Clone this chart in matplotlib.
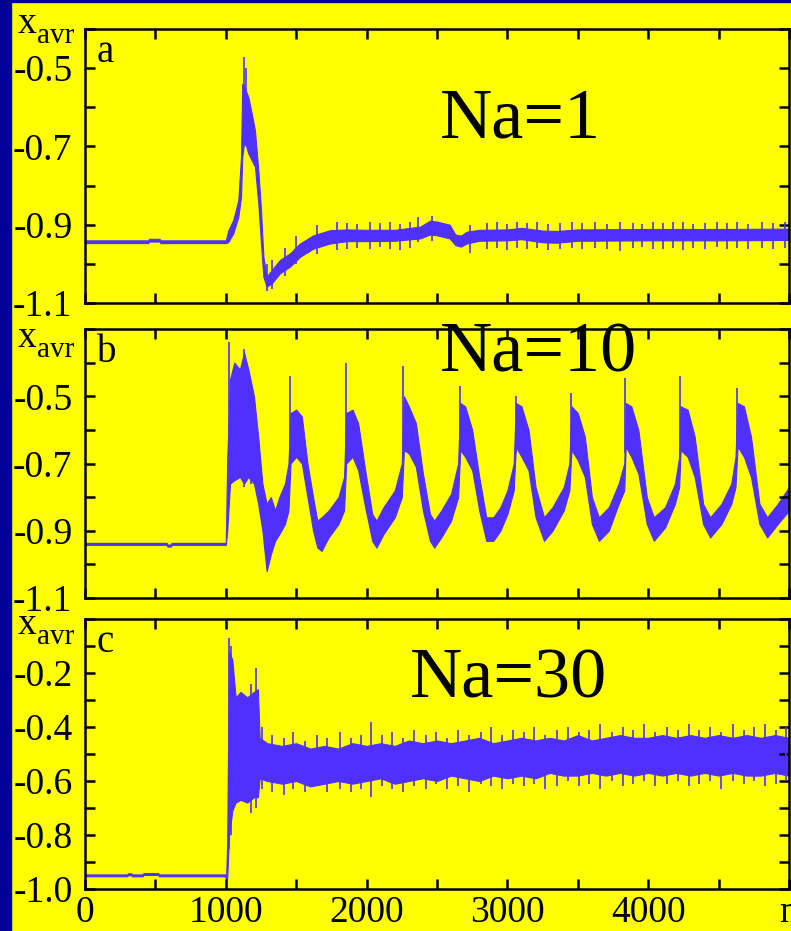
import numpy as np
import matplotlib.pyplot as plt
from matplotlib.ticker import MultipleLocator, FuncFormatter
from matplotlib.patches import Rectangle

plt.rcParams['font.family'] = ['Liberation Serif', 'DejaVu Serif']
plt.rcParams['axes.unicode_minus'] = False

# ---- panel a (Na=1): band envelope
a_n = [0, 450, 455, 530, 535, 1000, 1018, 1053, 1089, 1108, 1117, 1132, 1160, 1184, 1207,
       1231, 1250, 1267, 1290, 1326, 1385, 1456, 1527, 1622, 1740, 1860, 2000, 2200, 2380,
       2450, 2500, 2590, 2630, 2670, 2710, 2800, 3000, 3100, 3250, 3350, 3500, 4000, 4500, 5000]
a_up = [-0.940, -0.940, -0.936, -0.936, -0.940, -0.940, -0.914, -0.888, -0.837, -0.727, -0.540,
        -0.548, -0.574, -0.616, -0.659, -0.761, -0.863, -0.982, -1.033, -1.016, -0.990, -0.973,
        -0.948, -0.927, -0.914, -0.912, -0.913, -0.913, -0.905, -0.890, -0.892, -0.900, -0.925,
        -0.928, -0.918, -0.913, -0.912, -0.908, -0.915, -0.916, -0.912, -0.911, -0.911, -0.910]
a_lo = [-0.947, -0.947, -0.943, -0.943, -0.947, -0.947, -0.944, -0.922, -0.880, -0.829, -0.727,
        -0.684, -0.718, -0.735, -0.752, -0.846, -0.948, -1.033, -1.058, -1.050, -1.024, -1.007,
        -0.982, -0.961, -0.948, -0.942, -0.942, -0.941, -0.935, -0.925, -0.927, -0.935, -0.952,
        -0.956, -0.948, -0.941, -0.940, -0.937, -0.945, -0.946, -0.941, -0.940, -0.940, -0.939]
# spikes sticking out of the band
a_spike_n = [1132, 1145, 1290, 1330, 1420, 1500, 1645, 1787, 1858, 1930, 2024, 2095, 2166, 2237,
             2308, 2367, 2462, 2734, 2853, 2924, 2995, 3066, 3137, 3208, 3291, 3374, 3457, 3528,
             3622, 3705, 3800, 3894, 3954, 4036, 4107, 4178, 4249, 4320, 4403, 4486, 4557, 4628,
             4711, 4806, 4888, 4972]
a_spike_hi = [-0.472, -0.50, -1.00, -0.99, -0.96, -0.93, -0.90, -0.893, -0.895, -0.897, -0.892,
              -0.896, -0.894, -0.897, -0.893, -0.880, -0.878, -0.900, -0.895, -0.893, -0.897,
              -0.894, -0.896, -0.892, -0.897, -0.895, -0.893, -0.896, -0.894, -0.897, -0.893,
              -0.895, -0.897, -0.893, -0.896, -0.894, -0.892, -0.897, -0.895, -0.893, -0.896,
              -0.894, -0.897, -0.893, -0.895, -0.894]
a_spike_lo = [-0.70, -0.70, -1.070, -1.065, -1.03, -1.00, -0.975, -0.965, -0.962, -0.960, -0.963,
              -0.958, -0.961, -0.964, -0.960, -0.945, -0.942, -0.972, -0.962, -0.960, -0.964,
              -0.959, -0.962, -0.960, -0.965, -0.961, -0.959, -0.963, -0.960, -0.962, -0.966,
              -0.960, -0.958, -0.963, -0.961, -0.959, -0.964, -0.960, -0.962, -0.958, -0.963,
              -0.960, -0.962, -0.959, -0.961, -0.960]

# ---- panel b (Na=10)
b_n = [0, 580, 585, 610, 615, 1000, 1010, 1030, 1060, 1100, 1130, 1160, 1200, 1230, 1260,
       1290, 1320, 1350, 1380, 1420, 1445, 1460, 1500, 1540, 1580, 1620, 1650, 1680, 1730,
       1800, 1840, 1855, 1900, 1940, 1990, 2040, 2070, 2120, 2200, 2250, 2265, 2300, 2350,
       2400, 2450, 2480, 2530, 2600, 2650, 2665, 2700, 2750, 2800, 2850, 2900, 2950, 3000,
       3045, 3060, 3100, 3150, 3200, 3260, 3320, 3400, 3440, 3455, 3500, 3550, 3600, 3650,
       3720, 3790, 3830, 3840, 3880, 3930, 3990, 4040, 4120, 4190, 4220, 4230, 4280, 4330,
       4390, 4440, 4520, 4590, 4620, 4635, 4680, 4730, 4790, 4845, 4920, 5000]
b_up = [-0.936, -0.936, -0.941, -0.941, -0.936, -0.936, -0.69, -0.45, -0.40, -0.42, -0.37,
        -0.42, -0.50, -0.62, -0.76, -0.82, -0.80, -0.84, -0.80, -0.76, -0.70, -0.55, -0.54,
        -0.56, -0.70, -0.80, -0.87, -0.86, -0.84, -0.80, -0.74, -0.55, -0.54, -0.58, -0.72,
        -0.85, -0.87, -0.83, -0.78, -0.70, -0.50, -0.53, -0.58, -0.73, -0.85, -0.87, -0.84,
        -0.79, -0.70, -0.52, -0.53, -0.60, -0.74, -0.86, -0.86, -0.83, -0.78, -0.70, -0.52,
        -0.53, -0.60, -0.77, -0.86, -0.83, -0.77, -0.70, -0.53, -0.55, -0.62, -0.80, -0.86,
        -0.83, -0.76, -0.70, -0.52, -0.53, -0.60, -0.80, -0.86, -0.83, -0.76, -0.68, -0.53,
        -0.54, -0.62, -0.82, -0.86, -0.82, -0.76, -0.68, -0.52, -0.53, -0.62, -0.82, -0.86,
        -0.82, -0.77]
b_lo = [-0.942, -0.942, -0.947, -0.947, -0.942, -0.942, -0.90, -0.76, -0.75, -0.74, -0.76,
        -0.74, -0.76, -0.82, -0.90, -1.02, -0.97, -0.93, -0.91, -0.88, -0.84, -0.70, -0.68,
        -0.70, -0.80, -0.90, -0.95, -0.96, -0.92, -0.88, -0.84, -0.70, -0.68, -0.72, -0.83,
        -0.93, -0.95, -0.91, -0.86, -0.80, -0.66, -0.67, -0.71, -0.84, -0.93, -0.95, -0.92,
        -0.87, -0.80, -0.66, -0.68, -0.72, -0.84, -0.93, -0.93, -0.90, -0.85, -0.78, -0.65,
        -0.68, -0.72, -0.86, -0.93, -0.90, -0.84, -0.78, -0.66, -0.69, -0.74, -0.88, -0.93,
        -0.90, -0.82, -0.78, -0.65, -0.68, -0.73, -0.88, -0.93, -0.89, -0.82, -0.77, -0.66,
        -0.68, -0.74, -0.88, -0.92, -0.88, -0.82, -0.77, -0.65, -0.68, -0.74, -0.88, -0.92,
        -0.88, -0.84]
b_spike_n = [1020, 1130, 1180, 1455, 1855, 2262, 2663, 3058, 3450, 3835, 4226, 4630]
b_spike_hi = [-0.34, -0.36, -0.47, -0.44, -0.40, -0.41, -0.47, -0.50, -0.49, -0.445, -0.44, -0.475]
b_spike_lo = [-0.78, -0.77, -0.76, -0.70, -0.70, -0.68, -0.68, -0.67, -0.68, -0.67, -0.68, -0.67]

# ---- panel c (Na=30)
c_n = [0, 300, 305, 330, 335, 410, 415, 520, 525, 995, 1003, 1010, 1022, 1046, 1070, 1105,
       1152, 1200, 1228, 1240, 1294, 1400, 1500, 1600, 1700, 1800, 1900, 2000, 2100, 2200,
       2300, 2400, 2500, 2600, 2700, 2800, 2900, 3000, 3100, 3200, 3300, 3400, 3500, 3600,
       3700, 3800, 3900, 4000, 4100, 4200, 4300, 4400, 4500, 4600, 4700, 4800, 4900, 5000]
c_up = [-0.946, -0.946, -0.942, -0.942, -0.946, -0.946, -0.941, -0.941, -0.946, -0.946, -0.946,
        -0.83, -0.12, -0.15, -0.29, -0.27, -0.29, -0.27, -0.26, -0.44, -0.46, -0.47, -0.46,
        -0.48, -0.47, -0.48, -0.46, -0.47, -0.46, -0.47, -0.45, -0.46, -0.45, -0.46, -0.45,
        -0.44, -0.46, -0.45, -0.44, -0.45, -0.44, -0.45, -0.43, -0.45, -0.44, -0.43, -0.44,
        -0.44, -0.43, -0.44, -0.43, -0.44, -0.43, -0.44, -0.43, -0.44, -0.43, -0.44]
c_lo = [-0.953, -0.953, -0.949, -0.949, -0.953, -0.953, -0.948, -0.948, -0.953, -0.953, -0.965,
        -0.96, -0.81, -0.71, -0.68, -0.67, -0.68, -0.66, -0.66, -0.59, -0.60, -0.61, -0.60,
        -0.62, -0.61, -0.60, -0.61, -0.60, -0.59, -0.61, -0.60, -0.59, -0.60, -0.58, -0.59,
        -0.60, -0.58, -0.59, -0.58, -0.59, -0.57, -0.58, -0.58, -0.57, -0.58, -0.57, -0.58,
        -0.57, -0.58, -0.57, -0.58, -0.57, -0.58, -0.57, -0.58, -0.58, -0.57, -0.58]
c_spike_n = [1022, 1040, 1180, 1215, 1260, 1330, 1410, 1480, 1560, 1650, 1720, 1810, 1890, 1960,
             2029, 2110, 2180, 2260, 2340, 2420, 2490, 2570, 2650, 2730, 2810, 2880, 2960, 3040,
             3120, 3190, 3270, 3350, 3430, 3510, 3580, 3660, 3740, 3820, 3890, 3970, 4050, 4130,
             4210, 4290, 4360, 4440, 4520, 4600, 4680, 4750, 4830, 4910, 4980]
c_spike_hi = [-0.07, -0.10, -0.24, -0.18, -0.40, -0.43, -0.44, -0.42, -0.45, -0.43, -0.44, -0.42,
              -0.44, -0.43, -0.38, -0.43, -0.42, -0.44, -0.41, -0.43, -0.42, -0.44, -0.41, -0.43,
              -0.42, -0.40, -0.43, -0.41, -0.42, -0.40, -0.43, -0.41, -0.40, -0.42, -0.41, -0.39,
              -0.42, -0.40, -0.41, -0.39, -0.42, -0.40, -0.41, -0.39, -0.41, -0.40, -0.42, -0.39,
              -0.41, -0.40, -0.39, -0.41, -0.40]
c_spike_lo = [-0.85, -0.80, -0.72, -0.70, -0.63, -0.64, -0.65, -0.63, -0.64, -0.62, -0.64, -0.63,
              -0.64, -0.63, -0.66, -0.62, -0.63, -0.64, -0.62, -0.63, -0.61, -0.63, -0.62, -0.64,
              -0.61, -0.62, -0.63, -0.61, -0.62, -0.61, -0.63, -0.62, -0.60, -0.62, -0.61, -0.63,
              -0.60, -0.62, -0.61, -0.60, -0.62, -0.61, -0.60, -0.62, -0.61, -0.60, -0.63, -0.60,
              -0.61, -0.60, -0.62, -0.61, -0.60]

YELLOW = '#FFFF00'
BLUE = '#4F30FF'
NAVY = '#000099'
W, H = 791, 931

fig = plt.figure(figsize=(W / 100, H / 100), dpi=100, facecolor=YELLOW)
# dark slide border on the left and top
fig.patches.append(Rectangle((0, 0), 11 / W, 1, transform=fig.transFigure, color=NAVY))
fig.patches.append(Rectangle((0, 1 - 1.5 / H), 1, 1.5 / H, transform=fig.transFigure, color=NAVY))


def fpos(x, y):
    # pixel position -> figure fraction
    return x / W, 1 - y / H


panels = [
    # top px, bottom px, ylim, labelled y ticks, data, letter, Na text, text pos, x_avr baseline
    (29, 303, (-1.1, -0.4), [-1.1, -0.9, -0.7, -0.5], (a_n, a_up, a_lo, a_spike_n, a_spike_hi, a_spike_lo),
     'a', 'Na=1', (440, 137), 33),
    (329, 598, (-1.1, -0.3), [-1.1, -0.9, -0.7, -0.5], (b_n, b_up, b_lo, b_spike_n, b_spike_hi, b_spike_lo),
     'b', 'Na=10', (440, 372), 347),
    (619, 889, (-1.0, 0.0), [-1.0, -0.8, -0.6, -0.4, -0.2], (c_n, c_up, c_lo, c_spike_n, c_spike_hi, c_spike_lo),
     'c', 'Na=30', (410, 698), 634),
]

for i, (top, bot, ylim, ylab, data, letter, na, napos, xb) in enumerate(panels):
    ax = fig.add_axes([85 / W, 1 - bot / H, 704 / W, (bot - top) / H])
    ax.set_facecolor(YELLOW)
    n, up, lo, sn, shi, slo = data
    ax.fill_between(n, lo, up, color=BLUE, lw=0.8)
    ax.vlines(sn, slo, shi, color=BLUE, lw=1.2)

    ax.set_xlim(0, 5000)
    ax.set_ylim(*ylim)
    ax.xaxis.set_major_locator(MultipleLocator(500))
    ax.yaxis.set_major_locator(MultipleLocator(0.1))
    ax.yaxis.set_major_formatter(FuncFormatter(
        lambda v, p, ylab=ylab: f'{v:.1f}' if min(abs(v - l) for l in ylab) < 1e-6 else ''))
    ax.xaxis.set_major_formatter(FuncFormatter(
        lambda v, p: 'n' if abs(v - 5000) < 1 else (str(int(round(v))) if round(v) % 1000 == 0 else '')))
    ax.tick_params(direction='in', length=7, width=1.8, top=True, right=True,
                   labelsize=27, colors='black')
    ax.tick_params(axis='y', pad=9)
    ax.tick_params(axis='x', pad=5)
    if i < 2:
        ax.tick_params(labelbottom=False)
    for s in ax.spines.values():
        s.set_linewidth(1.8)

    # y label "x_avr" at the upper left, panel letter and Na value
    fig.text(*fpos(18, xb), 'x', ha='left', va='baseline', fontsize=27)
    fig.text(*fpos(37, xb + 10), 'avr', ha='left', va='baseline', fontsize=21)
    fig.text(*fpos(97, top + 33), letter, ha='left', va='baseline', fontsize=28)
    fig.text(*fpos(*napos), na, ha='left', va='baseline', fontsize=52, zorder=10)

plt.savefig('out.png', dpi=100, facecolor=YELLOW)
